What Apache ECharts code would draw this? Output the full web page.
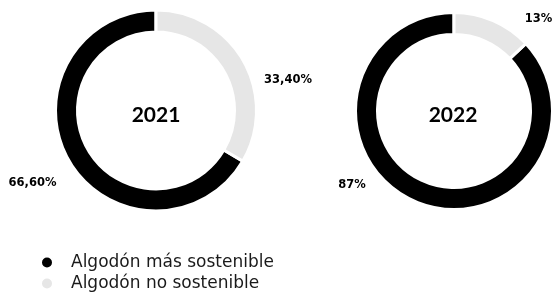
<!DOCTYPE html>
<html lang="es">
<head>
    <meta charset="utf-8" />
    <title>Algodón</title>
    <script src="https://cdn.jsdelivr.net/npm/echarts@6/dist/echarts.min.js"></script>
    <style>
        html, body { margin: 0; padding: 0; background: #fff; }
        #chartmain { width: 553px; height: 292px; }
    </style>
</head>
<body>
    <div id="chartmain"></div>
    <script>
        // datos
        var categorias = ['Algodón más sostenible', 'Algodón no sostenible'];
        var anios = ['2021', '2022'];
        var valores2021 = [66.6, 33.4];
        var valores2022 = [87, 13];
        var etiquetas2021 = ['66,60%', '33,40%'];
        var etiquetas2022 = ['87%', '13%'];
        var colores = ['#000000', '#e6e6e6'];

        var fuenteAnio = 'Lato, "Open Sans", sans-serif';
        var fuente = '"DejaVu Sans", sans-serif';

        // posiciones de las etiquetas (fijas, como en la imagen)
        var posEtiq = [
            [[32.5, 183], [288, 80]],
            [[352, 185], [538.5, 19]]
        ];

        function serieDona(idx, centro, radio, valores, etiquetas) {
            return {
                name: anios[idx], type: 'pie', center: centro, radius: radio,
                clockwise: false, startAngle: 90, silent: true,
                itemStyle: { borderColor: '#fff', borderWidth: 3 },
                label: {
                    show: true, position: 'inside', color: '#000', fontFamily: fuente,
                    fontWeight: 'bold', fontSize: 11.5, overflow: 'none',
                    formatter: function (p) { return etiquetas[p.dataIndex]; }
                },
                labelLine: { show: false },
                labelLayout: function (p) {
                    var xy = posEtiq[idx][p.dataIndex];
                    return { x: xy[0], y: xy[1], align: 'center', verticalAlign: 'middle' };
                },
                data: valores.map(function (v, i) {
                    return { name: categorias[i], value: v, itemStyle: { color: colores[i] } };
                })
            };
        }

        // una leyenda por fila
        function leyenda(i, arriba) {
            return {
                data: [categorias[i]], orient: 'vertical', left: 40, top: arriba, padding: 0,
                icon: 'circle', itemWidth: 12, itemHeight: 12, itemGap: 0,
                textStyle: { fontFamily: fuente, fontSize: 17, lineHeight: 16, color: '#1a1a1a', padding: [0, 0, 0, 13] }
            };
        }

        var chart = echarts.init(document.getElementById('chartmain'));
        chart.setOption({
            animation: false,
            color: colores,
            title: [
                { text: anios[0], left: 151, top: 110, textAlign: 'center', textVerticalAlign: 'middle',
                  textStyle: { fontFamily: fuenteAnio, fontSize: 21, fontWeight: 'bold', color: '#000' } },
                { text: anios[1], left: 448, top: 110, textAlign: 'center', textVerticalAlign: 'middle',
                  textStyle: { fontFamily: fuenteAnio, fontSize: 21, fontWeight: 'bold', color: '#000' } }
            ],
            legend: [leyenda(0, 254), leyenda(1, 275)],
            series: [
                serieDona(0, [156, 110.5], [78.5, 100.5], valores2021, etiquetas2021),
                serieDona(1, [454, 111], [76.5, 98.5], valores2022, etiquetas2022)
            ]
        });
    </script>
</body>
</html>
